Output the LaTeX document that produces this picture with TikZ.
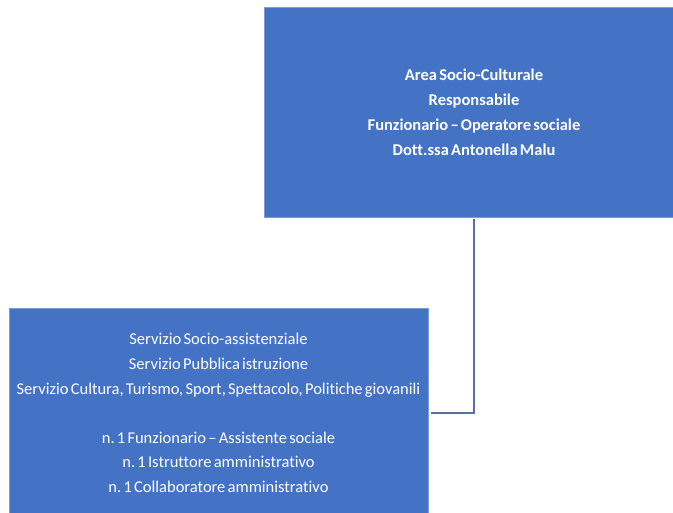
\documentclass[tikz,border=0pt]{standalone}
\usepackage{fontspec}
\setmainfont{Carlito}[Ligatures=NoCommon,WordSpace=0.6]
\usepackage{xcolor}
\definecolor{boxblue}{RGB}{68,114,196}
\definecolor{boxedge}{RGB}{125,155,212}
\definecolor{linkblue}{RGB}{84,112,164}
\frenchspacing

\begin{document}
\begin{tikzpicture}[x=1pt,y=-1pt,
    orgbox/.style={fill=boxblue,draw=boxedge,line width=0.6pt,text=white,
      align=center,inner sep=0pt,font=\fontsize{16.5}{24.6}\selectfont},
    link/.style={draw=linkblue,line width=2.6pt}]
  \useasboundingbox (0,0) rectangle (673,513);
  \clip (0,0) rectangle (673,513);
  % Area box (runs off the right edge)
  \node[orgbox,minimum width=420pt,minimum height=210pt,
    font=\bfseries\fontsize{16.5}{25}\selectfont] (area) at (474,112)
    {Area Socio-Culturale\\ Responsabile\\
     Funzionario -- Operatore sociale\\ Dott.ssa Antonella Malu};
  % Services box
  \node[orgbox,minimum width=419pt,minimum height=210pt] (servizi) at (218.5,413)
    {Servizio Socio-assistenziale\\ Servizio Pubblica istruzione\\
     Servizio Cultura, Turismo, Sport, Spettacolo, Politiche giovanili\\[24.6pt]
     n. 1 Funzionario -- Assistente sociale\\ n. 1 Istruttore amministrativo\\
     n. 1 Collaboratore amministrativo};
  % Connector
  \draw[link,shorten <=2pt,shorten >=3pt] (area.south) |- (servizi.east);
\end{tikzpicture}
\end{document}
